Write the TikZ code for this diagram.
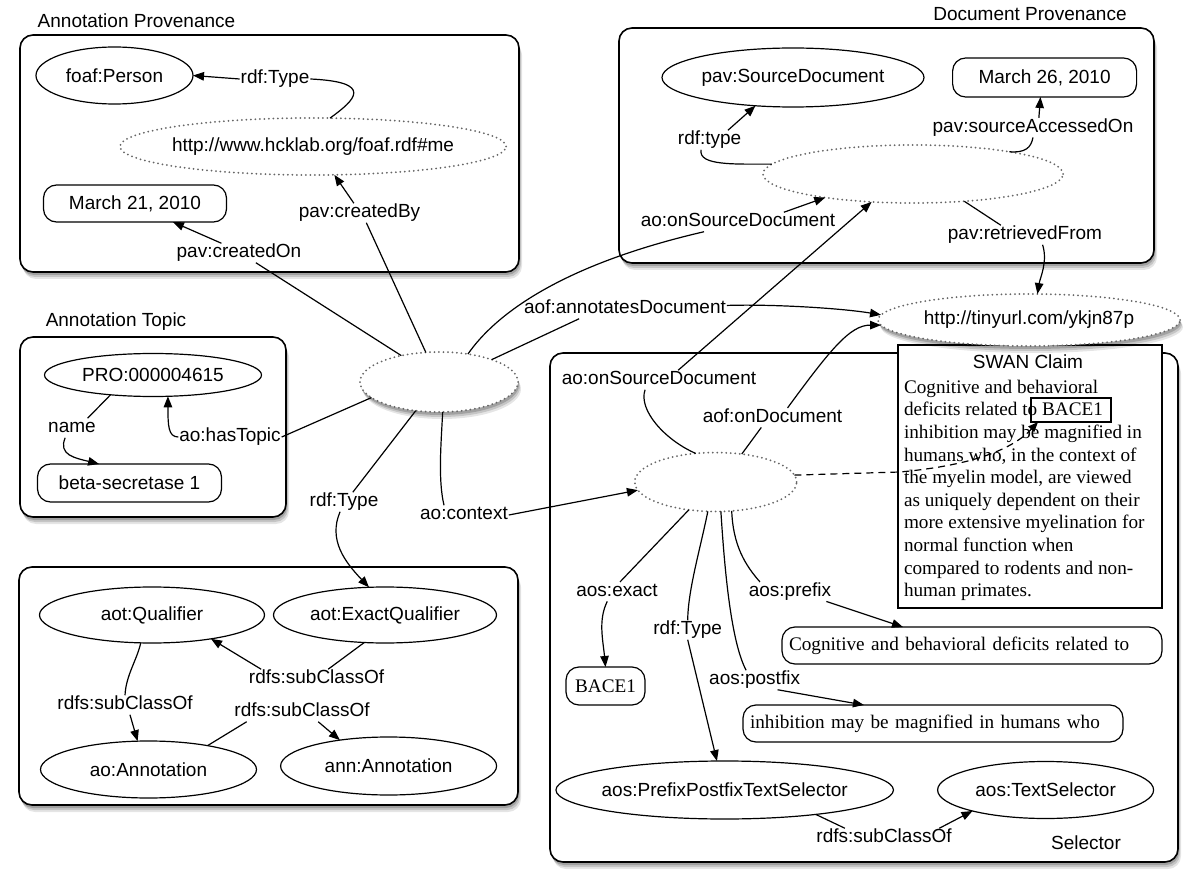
\documentclass[tikz,border=0pt]{standalone}
\usepackage{fontspec}
\setmainfont{Liberation Sans}
\newfontfamily\seriffont{Liberation Serif}
\usetikzlibrary{shapes.geometric,arrows.meta,shadows}
\begin{document}
\begin{tikzpicture}[x=1pt,y=-1pt,
  every node/.style={font=\fontsize{19}{22}\selectfont, outer sep=0pt},
  lbl/.style={inner sep=1pt, text height=13.5pt, text depth=4pt},
  ttl/.style={inner sep=1pt},
  softshadow/.style={drop shadow={shadow xshift=1pt,shadow yshift=-3pt,opacity=.18,fill=black},
                     drop shadow={shadow xshift=2pt,shadow yshift=-5pt,opacity=.14,fill=black},
                     drop shadow={shadow xshift=3pt,shadow yshift=-7pt,opacity=.1,fill=black}},
  grp/.style={draw, line width=1.6pt, rounded corners=13pt, fill=white, softshadow, inner sep=0pt},
  oval/.style={ellipse, draw, line width=1.2pt, fill=white, inner xsep=-45pt, inner ysep=0pt},
  dots/.style={ellipse, draw=black!60, line width=2pt, dash pattern=on 0pt off 4.5pt, line cap=round, fill=white, inner xsep=-45pt, inner ysep=0pt},
  pill/.style={draw, line width=1.2pt, rounded corners=13pt, fill=white, inner sep=0pt},
  sertext/.style={font=\seriffont\fontsize{19.2}{22.6}\selectfont},
  con/.style={line width=1.2pt},
  arr/.style={con, -{Triangle[length=11pt,width=8.5pt]}},
]
\useasboundingbox (0,0) rectangle (1200,877);

% ---------- group boxes ----------
\node[grp, minimum width=499pt, minimum height=237pt] (apbox) at (269.5,153.5) {};
\node[grp, minimum width=266pt, minimum height=180pt] (atbox) at (153,427) {};
\node[grp, minimum width=499pt, minimum height=238pt] (qbox) at (268.5,686) {};
\node[grp, minimum width=535pt, minimum height=235pt] (dpbox) at (886.5,145.5) {};
\node[grp, minimum width=628pt, minimum height=509pt] (selbox) at (864,607.5) {};

\node[ttl] (apt) at (136.5,21) {Annotation Provenance};
\node[ttl] (att) at (116,322) {Annotation Topic};
\node[ttl] (dpt) at (1030,14) {Document Provenance};
\node[ttl] (lSel) at (1086,843) {Selector};

% ---------- Annotation Provenance ----------
\node[oval, minimum width=157pt, minimum height=57pt] (person) at (114.5,75.5) {foaf:Person};
\node[dots, minimum width=386pt, minimum height=57pt] (hck) at (313,146.5) {http://www.hcklab.org/foaf.rdf\#me};
\node[pill, minimum width=183pt, minimum height=37pt] (d21) at (135,203.5) {March 21, 2010};
\node[lbl] (lType) at (275,79) {rdf:Type};
\node[lbl] (lBy) at (359.5,213) {pav:createdBy};
\node[lbl] (lOn) at (239,253) {pav:createdOn};

% ---------- Annotation Topic ----------
\node[oval, minimum width=217pt, minimum height=43pt] (pro) at (153,375) {PRO:000004615};
\node[pill, minimum width=184pt, minimum height=38pt] (beta) at (129.5,483) {beta-secretase 1};
\node[lbl] (lName) at (72,428) {name};
\node[lbl] (lTopic) at (230,437) {ao:hasTopic};

% ---------- Qualifier group ----------
\node[oval, minimum width=225pt, minimum height=56pt] (qual) at (152,615) {aot:Qualifier};
\node[oval, minimum width=223pt, minimum height=56pt] (exq) at (385,615) {aot:ExactQualifier};
\node[oval, minimum width=216pt, minimum height=57pt] (aoann) at (148.5,769.5) {ao:Annotation};
\node[oval, minimum width=216pt, minimum height=58pt] (annann) at (388.6,766) {ann:Annotation};
\node[lbl] (lSub1) at (125,705) {rdfs:subClassOf};
\node[lbl] (lSub2) at (316.5,679) {rdfs:subClassOf};
\node[lbl] (lSub3) at (302,712) {rdfs:subClassOf};

% ---------- Document Provenance ----------
\node[oval, minimum width=262pt, minimum height=59pt] (srcdoc) at (793,77.5) {pav:SourceDocument};
\node[pill, minimum width=184pt, minimum height=39pt] (d26) at (1044.6,77.5) {March 26, 2010};
\node[dots, minimum width=300pt, minimum height=58pt] (dpe) at (913,174) {};
\node[lbl] (lRdftype) at (709.6,140) {rdf:type};
\node[lbl] (lAcc) at (1033,127.7) {pav:sourceAccessedOn};
\node[lbl] (lRet) at (1025,235) {pav:retrievedFrom};
\node[lbl] (lOSD1) at (738,222) {ao:onSourceDocument};

% ---------- SWAN claim ----------
\node[draw, line width=1.2pt, fill=white, minimum width=264pt, minimum height=263pt, inner sep=0pt] (swan) at (1030,476.5) {};
\node[ttl] (swant) at (1028,362) {SWAN Claim};
\node[sertext, anchor=north west, inner sep=0pt, align=left] (swantext) at (904,380)
 {Cognitive and behavioral\\deficits related to BACE1\\inhibition may be magnified in\\humans who, in the context of\\the myelin model, are viewed\\as uniquely dependent on their\\more extensive myelination for\\normal function when\\compared to rodents and non-\\human primates.};
\node[draw, line width=1.2pt, minimum width=80pt, minimum height=24pt, inner sep=0pt] (bacebox) at (1071,410) {};

% ---------- central nodes ----------
\node[dots, softshadow, minimum width=302pt, minimum height=52pt] (tiny) at (1029,320) {http://tinyurl.com/ykjn87p};
\node[dots, softshadow, minimum width=158pt, minimum height=60pt] (ce) at (439,382) {};
\node[lbl] (lType2) at (344,502) {rdf:Type};
\node[lbl] (lCtx) at (464,515) {ao:context};
\node[lbl] (lAnnDoc) at (625,309) {aof:annotatesDocument};

% ---------- Selector ----------
\node[dots, minimum width=162pt, minimum height=59pt] (ctx) at (715.7,482) {};
\node[lbl] (lOSD2) at (659,380) {ao:onSourceDocument};
\node[lbl] (lOnDoc) at (772.5,417.7) {aof:onDocument};
\node[lbl] (lExact) at (617,591.7) {aos:exact};
\node[lbl] (lType3) at (687.7,630) {rdf:Type};
\node[lbl] (lPrefix) at (790,591.7) {aos:prefix};
\node[lbl] (lPostfix) at (754.6,680) {aos:postfix};
\node[pill, sertext, minimum width=79pt, minimum height=38pt] (bace) at (605.5,686) {BACE1};
\node[pill, sertext, text width=366pt, inner xsep=7pt, minimum height=37pt, align=left] (cog) at (972,645.5) {Cognitive and behavioral deficits related to};
\node[pill, sertext, text width=366pt, inner xsep=7pt, minimum height=37pt, align=left] (inh) at (933,723.5) {inhibition may be magnified in humans who};
\node[oval, minimum width=337.5pt, minimum height=58pt] (pps) at (724.7,790) {aos:PrefixPostfixTextSelector};
\node[oval, minimum width=216pt, minimum height=57pt] (ts) at (1045.6,790) {aos:TextSelector};
\node[lbl] (lSub4) at (884,838) {rdfs:subClassOf};

% ---------- connectors: Annotation Provenance ----------
\draw[con] (hck.59) .. controls (355,100) and (375,82) .. (lType.east);
\draw[arr] (lType.west) -- (person.east);
\draw[arr] (lBy.120) -- (hck.-53);
\draw[con] (ce.114) -- (lBy.-55);
\draw[arr] (lOn.151) -- (d21.-26);
\draw[con] (ce.145) -- (lOn.-30);

% ---------- Annotation Topic ----------
\draw[con] (pro.205) -- (lName.32);
\draw[arr] (lName.235) .. controls (58,455) and (75,458) .. (beta.148);
\draw[arr] (lTopic.west) .. controls (168,437) and (168,425) .. (pro.-55);
\draw[con] (ce.193) -- (lTopic.east);

% ---------- Qualifier group ----------
\draw[con] (qual.248) .. controls (137,660) and (126,675) .. (lSub1.north);
\draw[arr] (lSub1.-63) -- (aoann.111);
\draw[con] (exq.233) -- (lSub2.40);
\draw[arr] (lSub2.170) -- (qual.-22);
\draw[con] (aoann.22) -- (lSub3.190);
\draw[arr] (lSub3.-31) -- (annann.152);
\draw[con] (ce.231) -- (lType2.48);
\draw[arr] (lType2.248) .. controls (328,540) and (345,562) .. (exq.120);

% ---------- context ----------
\draw[con] (ce.277) .. controls (441,445) and (438,480) .. (lCtx.154);
\draw[arr] (lCtx.east) -- (ctx.186);

% ---------- Document Provenance ----------
\draw[arr] (lRdftype.28) -- (srcdoc.217);
\draw[con] (dpe.176) .. controls (735,164) and (698,166) .. (lRdftype.229);
\draw[con] (dpe.13) .. controls (1025,153) and (1031,148) .. (lAcc.south);
\draw[arr] (lAcc.59) -- (d26.258);
\draw[con] (dpe.-28) -- (lRet.158);
\draw[arr] (lRet.-29) .. controls (1048,262) and (1040,278) .. (tiny.72);
\draw[con] (ce.44) .. controls (495,315) and (560,265) .. (lOSD1.196);
\draw[arr] (lOSD1.12) -- (dpe.195);

% ---------- annotatesDocument ----------
\draw[con] (ce.23) -- (lAnnDoc.192);
\draw[arr] (lAnnDoc.2) .. controls (770,304) and (840,308) .. (tiny.178);

% ---------- Selector ----------
\draw[arr] (lOSD2.27) -- (dpe.214);
\draw[con] (lOSD2.215) .. controls (638,410) and (665,440) .. (ctx.125);
\draw[con] (ctx.47) -- (lOnDoc.221);
\draw[arr] (lOnDoc.33) .. controls (830,350) and (850,325) .. (tiny.182);
\draw[con] (ctx.226) -- (lExact.73);
\draw[arr] (lExact.225) .. controls (598,620) and (603,640) .. (bace.north);
\draw[con] (ctx.255) .. controls (700,550) and (688,590) .. (lType3.north);
\draw[arr] (lType3.south) -- (pps.105);
\draw[con] (ctx.-80) .. controls (724,560) and (730,640) .. (lPostfix.131);
\draw[arr] (lPostfix.-23) -- (inh.165);
\draw[con] (ctx.-61) .. controls (733,545) and (745,565) .. (lPrefix.162);
\draw[arr] (lPrefix.-15) -- (cog.165);
\draw[con] (pps.-15) -- (lSub4.166);
\draw[arr] (lSub4.10) -- (ts.196);
\draw[con, dash pattern=on 7pt off 5pt, -{Triangle[length=10pt,width=8pt]}] (ctx.5) -- (900,472) .. controls (965,466) and (1010,452) .. (bacebox.200);
\end{tikzpicture}
\end{document}
